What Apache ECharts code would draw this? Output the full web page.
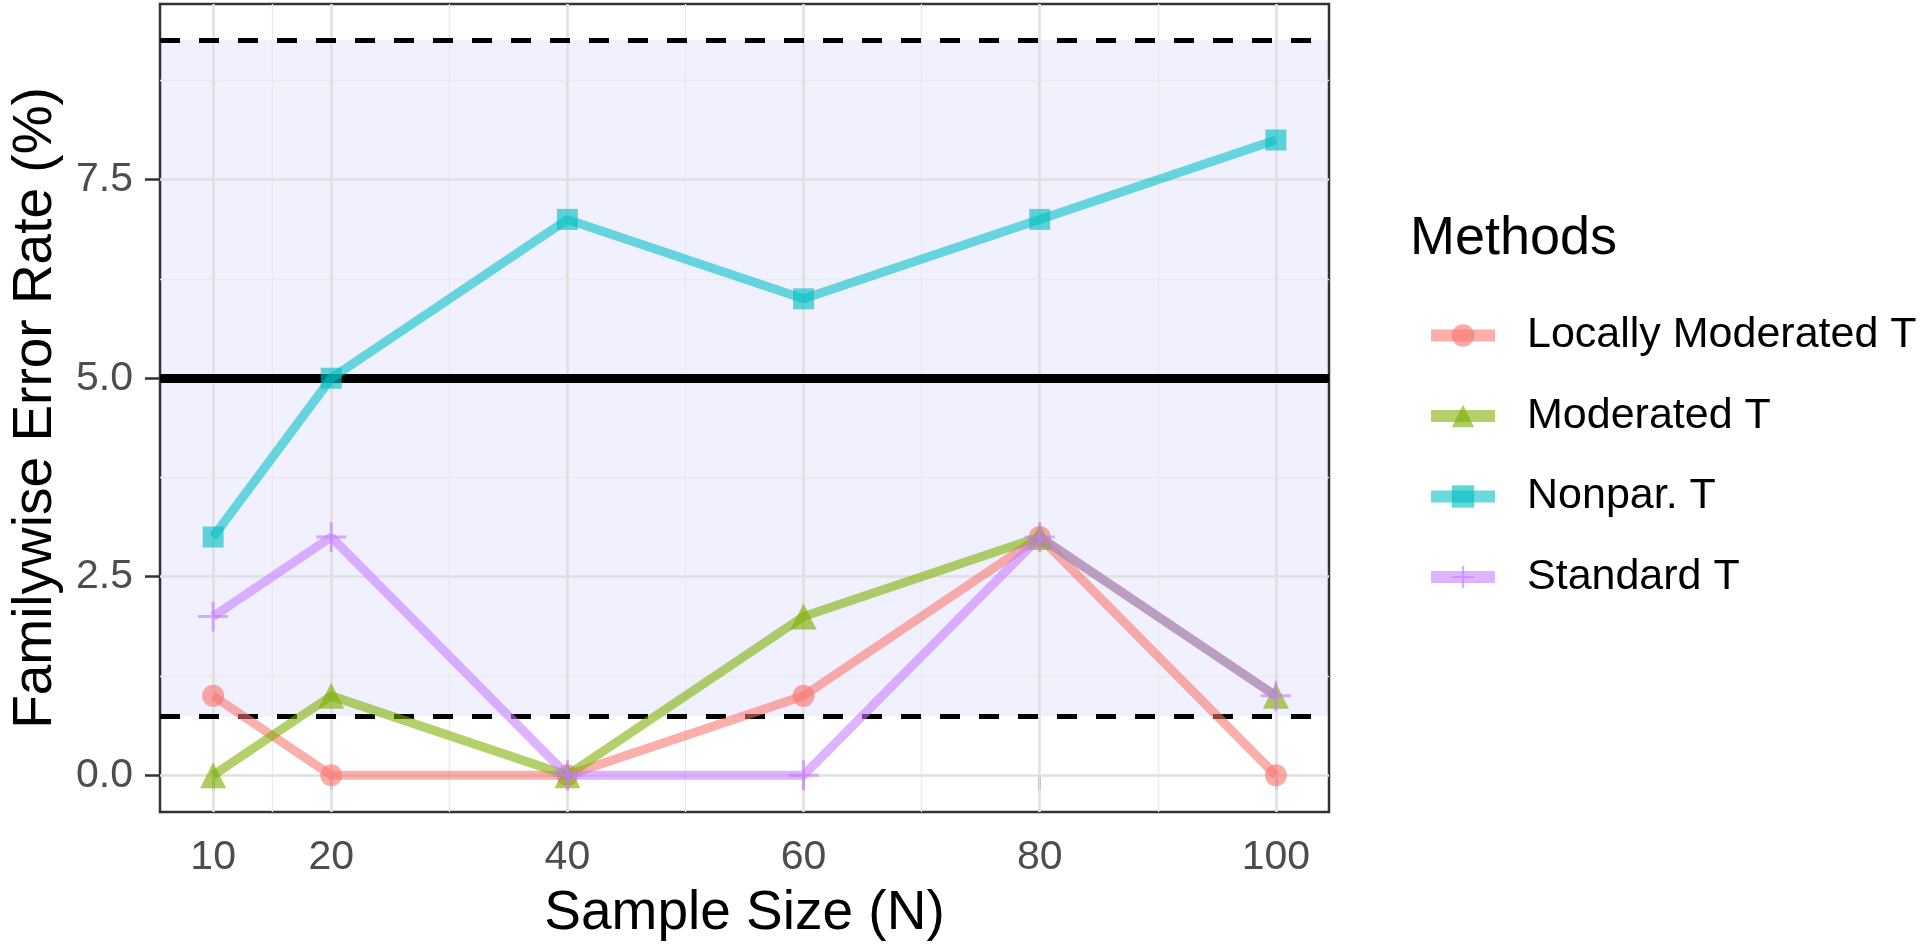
<!DOCTYPE html>
<html>
<head>
<meta charset="utf-8">
<script src="https://cdn.jsdelivr.net/npm/echarts@6/dist/echarts.min.js"></script>
<style>
html,body{margin:0;padding:0;background:#fff;}
#chart{width:1920px;height:948px;}
</style>
</head>
<body>
<div id="chart"></div>
<script>
// ---- data ----
const sampleSizes = [10, 20, 40, 60, 80, 100];
const methodNames = ['Locally Moderated T', 'Moderated T', 'Nonpar. T', 'Standard T'];
const locallyModeratedT = [1, 0, 0, 1, 3, 0];
const moderatedT = [0, 1, 0, 2, 3, 1];
const nonparT = [3, 5, 7, 6, 7, 8];
const standardT = [2, 3, 0, 0, 3, 1];
const xTickValues = [10, 20, 40, 60, 80, 100];
const xMinorGrid = [15, 30, 50, 70, 90];
const yTickValues = [0, 2.5, 5, 7.5];
const yMinorGrid = [1.25, 3.75, 6.25, 8.75];
const nominalRate = 5;
const bandLower = 0.74;
const bandUpper = 9.26;

// ---- styling ----
const FONT = 'Liberation Sans, Arial, Helvetica, sans-serif';
const colors = ['#F8766D', '#7CAE00', '#00BFC4', '#C77CFF'];
const plusPath = 'path://M-1,-10L1,-10L1,-1L10,-1L10,1L1,1L1,10L-1,10L-1,1L-10,1L-10,-1L-1,-1Z';
const symbols = ['circle', 'triangle', 'rect', plusPath];
const symbolSizes = [22, 26, 21, 30];
const seriesValues = [locallyModeratedT, moderatedT, nonparT, standardT];

const majorGrid = {color: '#e0e0e0', width: 2.6, type: 'solid'};
const minorGrid = {color: '#eaeaea', width: 1.4, type: 'solid'};

const gridLines = [].concat(
  xMinorGrid.map(v => ({xAxis: v, lineStyle: minorGrid})),
  yMinorGrid.map(v => ({yAxis: v, lineStyle: minorGrid})),
  xTickValues.map(v => ({xAxis: v, lineStyle: majorGrid})),
  yTickValues.map(v => ({yAxis: v, lineStyle: majorGrid}))
);

const helperSeries = [
  {
    name: '_grid', type: 'line', data: [], silent: true, z: 1,
    markLine: {silent: true, symbol: 'none', animation: false, label: {show: false}, data: gridLines}
  },
  {
    name: '_band', type: 'line', data: [], silent: true, z: 2,
    markArea: {silent: true, animation: false, itemStyle: {color: 'rgba(0,0,255,0.06)'},
      data: [[{yAxis: bandLower}, {yAxis: bandUpper}]]}
  },
  {
    name: '_ref', type: 'line', data: [], silent: true, z: 3,
    markLine: {silent: true, symbol: 'none', animation: false, label: {show: false},
      data: [
        {yAxis: bandLower, lineStyle: {color: '#000', width: 5, type: [20, 19]}},
        {yAxis: bandUpper, lineStyle: {color: '#000', width: 5, type: [20, 19]}},
        {yAxis: nominalRate, lineStyle: {color: '#000', width: 9, type: 'solid'}}
      ]}
  }
];

const dataSeries = methodNames.map((name, i) => ({
  name: name,
  type: 'line',
  z: 10 + i,
  data: sampleSizes.map((x, j) => [x, seriesValues[i][j]]),
  symbol: symbols[i],
  symbolSize: symbolSizes[i],
  showAllSymbol: true,
  lineStyle: {color: colors[i], width: 9, opacity: 0.58},
  itemStyle: {color: colors[i], opacity: 0.62},
  emphasis: {disabled: true},
  animation: false
}));

const chart = echarts.init(document.getElementById('chart'), null, {renderer: 'canvas'});
chart.setOption({
  backgroundColor: '#ffffff',
  animation: false,
  textStyle: {fontFamily: FONT},
  title: {
    text: 'Methods', left: 1405, top: 207,
    textStyle: {fontSize: 54, fontWeight: 'normal', color: '#000', fontFamily: FONT}
  },
  legend: {
    data: methodNames,
    orient: 'vertical',
    left: 1420, top: 309,
    itemWidth: 64, itemHeight: 28, itemGap: 37.5,
    lineStyle: {width: 12},
    textStyle: {fontSize: 43, color: '#000', fontFamily: FONT, padding: [0, 0, 0, 27]},
    selectedMode: false
  },
  grid: {
    left: 157, right: 591, top: 4, bottom: 136,
    show: true, borderColor: '#333333', borderWidth: 2.5, backgroundColor: '#ffffff'
  },
  xAxis: {
    type: 'value', min: 5.5, max: 104.5,
    axisLine: {show: false},
    axisTick: {show: true, length: 15, customValues: xTickValues, lineStyle: {color: '#333333', width: 2.5}},
    axisLabel: {customValues: xTickValues, fontSize: 41, color: '#4d4d4d', margin: 25, fontFamily: FONT},
    splitLine: {show: false},
    name: 'Sample Size (N)', nameLocation: 'middle', nameGap: 74,
    nameTextStyle: {fontSize: 55, color: '#000', fontFamily: FONT}
  },
  yAxis: {
    type: 'value', min: -0.4625, max: 9.7125,
    axisLine: {show: false},
    axisTick: {show: true, length: 15, customValues: yTickValues, lineStyle: {color: '#333333', width: 2.5}},
    axisLabel: {customValues: yTickValues, fontSize: 41, color: '#4d4d4d', margin: 27, fontFamily: FONT,
      formatter: v => Number(v).toFixed(1)},
    splitLine: {show: false},
    name: 'Familywise Error Rate (%)', nameLocation: 'middle', nameGap: 97,
    nameTextStyle: {fontSize: 55, color: '#000', fontFamily: FONT}
  },
  series: helperSeries.concat(dataSeries)
});
</script>
</body>
</html>
